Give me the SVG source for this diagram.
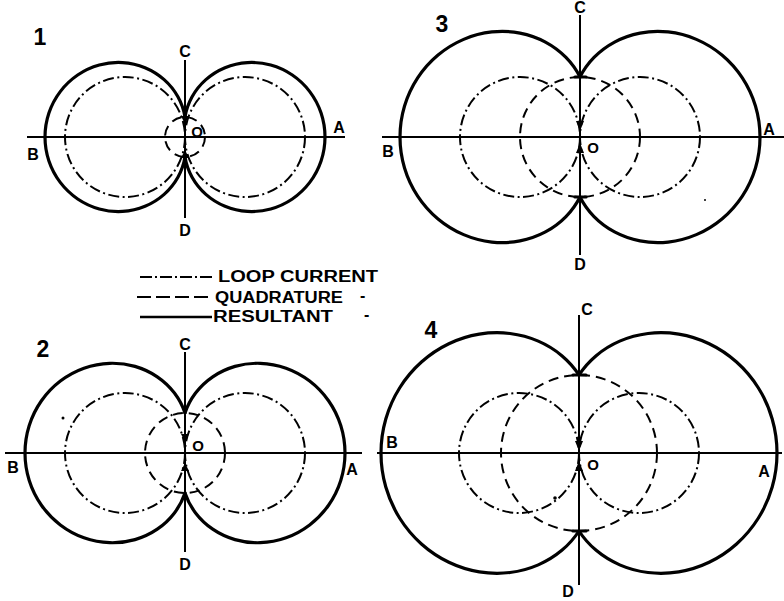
<svg xmlns="http://www.w3.org/2000/svg" width="784" height="601" viewBox="0 0 784 601">
<style>
.ax{stroke:#000;stroke-width:2;fill:none}
.res{stroke:#000;stroke-width:3.2;fill:none;stroke-linecap:round;stroke-linejoin:round}
.loop{stroke:#000;stroke-width:2;fill:none;stroke-dasharray:11 3.5 2 3.5}
.quad{stroke:#000;stroke-width:2;fill:none;stroke-dasharray:10 6}
.arr{fill:#000;stroke:none}
text{font-family:"Liberation Sans",Arial,sans-serif;font-weight:bold;fill:#000}
.lbl{font-size:16px;text-anchor:middle}
.o{font-size:15px;text-anchor:middle}
.num{font-size:23px;text-anchor:middle}
.leg{font-size:16px}
</style>
<defs>
<path id="q1" d="M140,0 C140,-8.15 138.67,-16.28 136.08,-23.99 C133.49,-31.70 129.64,-38.96 124.75,-45.40 C119.86,-51.84 113.95,-57.46 107.32,-61.96 C100.69,-66.46 93.35,-69.84 85.73,-71.94 C78.11,-74.04 70.21,-74.86 62.44,-74.40 C54.67,-73.94 47.05,-72.19 40,-69.28 C32.95,-66.37 26.46,-62.31 20.88,-57.36 C15.30,-52.41 10.62,-46.58 7.09,-40.22 C3.56,-33.86 1.16,-26.98 0,-20"/>
<path id="q2" d="M160,0 C160,-9.31 158.56,-18.61 155.77,-27.46 C152.98,-36.31 148.83,-44.71 143.55,-52.24 C138.27,-59.77 131.85,-66.45 124.64,-71.96 C117.43,-77.47 109.42,-81.81 101.05,-84.80 C92.68,-87.79 83.95,-89.44 75.29,-89.72 C66.63,-90.00 58.06,-88.93 50,-86.60 C41.94,-84.27 34.39,-80.70 27.72,-76.15 C21.05,-71.60 15.24,-66.08 10.56,-59.92 C5.88,-53.76 2.33,-46.98 0,-40"/>
<path id="q3" d="M180,0 C180,-10.47 178.46,-20.93 175.47,-30.93 C172.48,-40.93 168.02,-50.45 162.34,-59.08 C156.66,-67.71 149.75,-75.45 141.96,-81.96 C134.17,-88.47 125.49,-93.76 116.37,-97.65 C107.25,-101.54 97.70,-104.01 88.15,-105.04 C78.60,-106.07 69.07,-105.67 60,-103.92 C50.93,-102.17 42.33,-99.10 34.56,-94.95 C26.79,-90.80 19.86,-85.56 14.03,-79.61 C8.20,-73.66 3.49,-66.98 0,-60"/>
<path id="q4" d="M198,0 C198,-11.52 196.38,-23.03 193.20,-34.06 C190.02,-45.09 185.30,-55.63 179.26,-65.24 C173.22,-74.85 165.86,-83.54 157.55,-90.96 C149.24,-98.38 139.95,-104.54 130.16,-109.23 C120.37,-113.92 110.07,-117.12 99.72,-118.83 C89.37,-120.54 78.98,-120.73 69,-119.51 C59.02,-118.29 49.46,-115.66 40.71,-111.86 C31.96,-108.06 24.02,-103.11 17.16,-97.34 C10.30,-91.57 4.54,-84.98 0,-78"/>
</defs>
<rect x="0" y="0" width="784" height="601" fill="#fff"/>

<g id="panel1">
  <line class="ax" x1="27" y1="137" x2="345" y2="137"/>
  <line class="ax" x1="185" y1="60" x2="185" y2="218"/>
  <circle class="loop" cx="125" cy="137" r="60"/>
  <circle class="loop" cx="245" cy="137" r="60"/>
  <circle class="quad" cx="185" cy="137" r="20"/>
  <g class="res" transform="translate(185,137)">
    <use href="#q1"/><use href="#q1" transform="scale(1,-1)"/>
    <use href="#q1" transform="scale(-1,1)"/><use href="#q1" transform="scale(-1,-1)"/>
  </g>
  <polygon class="arr" points="181,116 189,116 185,124"/>
  <polygon class="arr" points="181,158 189,158 185,150"/>
  <text class="num" x="40" y="45">1</text>
  <text class="lbl" x="185" y="57">C</text>
  <text class="lbl" x="185" y="236">D</text>
  <text class="lbl" x="33" y="160">B</text>
  <text class="lbl" x="339" y="133">A</text>
  <text class="o" x="197" y="137">O</text>
</g>

<g id="panel2">
  <line class="ax" x1="5" y1="453" x2="362" y2="453"/>
  <line class="ax" x1="185" y1="352" x2="185" y2="552"/>
  <circle class="loop" cx="125" cy="453" r="60"/>
  <circle class="loop" cx="245" cy="453" r="60"/>
  <circle class="quad" cx="185" cy="453" r="40"/>
  <g class="res" transform="translate(185,453)">
    <use href="#q2"/><use href="#q2" transform="scale(1,-1)"/>
    <use href="#q2" transform="scale(-1,1)"/><use href="#q2" transform="scale(-1,-1)"/>
  </g>
  <polygon class="arr" points="181,434 189,434 185,442"/>
  <polygon class="arr" points="181,471 189,471 185,463"/>
  <circle class="arr" cx="63" cy="418" r="1.5"/>
  <text class="num" x="43" y="357">2</text>
  <text class="lbl" x="185" y="350">C</text>
  <text class="lbl" x="185" y="570">D</text>
  <text class="lbl" x="13" y="473">B</text>
  <text class="lbl" x="352" y="475">A</text>
  <text class="o" x="198" y="451">O</text>
</g>

<g id="panel3">
  <line class="ax" x1="382" y1="137" x2="784" y2="137"/>
  <line class="ax" x1="580" y1="15" x2="580" y2="255"/>
  <circle class="loop" cx="520" cy="137" r="60"/>
  <circle class="loop" cx="640" cy="137" r="60"/>
  <circle class="quad" cx="580" cy="137" r="60"/>
  <g class="res" transform="translate(580,137)">
    <use href="#q3"/><use href="#q3" transform="scale(1,-1)"/>
    <use href="#q3" transform="scale(-1,1)"/><use href="#q3" transform="scale(-1,-1)"/>
  </g>
  <line class="res" x1="575" y1="77" x2="586" y2="77"/>
  <line class="res" x1="575" y1="197" x2="586" y2="197"/>
  <polygon class="arr" points="576,121 584,121 580,131"/>
  <polygon class="arr" points="576,153 584,153 580,143"/>
  <circle class="arr" cx="705" cy="200" r="1"/>
  <text class="num" x="442" y="32">3</text>
  <text class="lbl" x="580" y="13">C</text>
  <text class="lbl" x="580" y="270">D</text>
  <text class="lbl" x="388" y="157">B</text>
  <text class="lbl" x="769" y="135">A</text>
  <text class="o" x="593" y="153">O</text>
</g>

<g id="panel4">
  <line class="ax" x1="377" y1="453" x2="782" y2="453"/>
  <line class="ax" x1="579" y1="315" x2="579" y2="585"/>
  <circle class="loop" cx="519" cy="453" r="60"/>
  <circle class="loop" cx="639" cy="453" r="60"/>
  <circle class="quad" cx="579" cy="453" r="78"/>
  <g class="res" transform="translate(579,453)">
    <use href="#q4"/><use href="#q4" transform="scale(1,-1)"/>
    <use href="#q4" transform="scale(-1,1)"/><use href="#q4" transform="scale(-1,-1)"/>
  </g>
  <line class="res" x1="573" y1="375" x2="586" y2="375"/>
  <line class="res" x1="573" y1="531" x2="586" y2="531"/>
  <polygon class="arr" points="575,441 583,441 579,451"/>
  <polygon class="arr" points="575,471 583,471 579,461"/>
  <circle class="arr" cx="555" cy="498" r="1.8"/>
  <text class="num" x="431" y="338">4</text>
  <text class="lbl" x="587" y="315">C</text>
  <text class="lbl" x="568" y="597">D</text>
  <text class="lbl" x="392" y="448">B</text>
  <text class="lbl" x="764" y="477">A</text>
  <text class="o" x="593" y="470">O</text>
</g>

<g id="legend">
  <line class="loop" x1="140" y1="277" x2="213" y2="277" style="stroke-dasharray:12 3 2 3"/>
  <line class="quad" x1="137" y1="297" x2="212" y2="297" style="stroke-dasharray:14 5"/>
  <line class="ax" x1="140" y1="317" x2="212" y2="317" style="stroke-width:2.5"/>
  <text class="leg" x="218" y="282" textLength="160" lengthAdjust="spacingAndGlyphs">LOOP CURRENT</text>
  <text class="leg" x="215" y="303" textLength="128" lengthAdjust="spacingAndGlyphs">QUADRATURE</text>
  <text class="leg" x="213" y="322" textLength="120" lengthAdjust="spacingAndGlyphs">RESULTANT</text>
  <text class="leg" x="360" y="301">-</text>
  <text class="leg" x="364" y="320">-</text>
</g>
</svg>
